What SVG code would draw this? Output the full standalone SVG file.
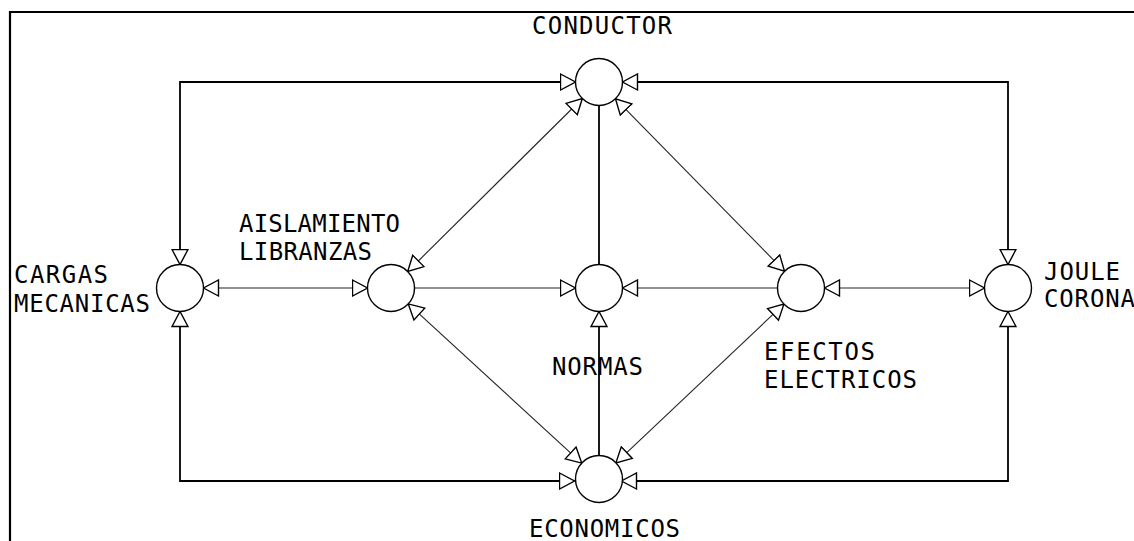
<svg xmlns="http://www.w3.org/2000/svg" width="1134" height="541" viewBox="0 0 1134 541">
  <style>
    .frame { fill: none; stroke: #000; stroke-width: 2.2; }
    .node circle { fill: #fff; stroke: #000; stroke-width: 1.4; }
    .loop { fill: none; stroke: #000; stroke-width: 1.8; }
    .link { fill: none; stroke: #222; stroke-width: 1.1; }
    .both { marker-start: url(#tri); marker-end: url(#tri); }
    .end { marker-end: url(#tri); }
    text { font-family: "DejaVu Sans Mono", "Liberation Mono", monospace; font-size: 24px; fill: #000; }
  </style>
  <defs>
    <marker id="tri" viewBox="0 0 17 18" markerUnits="userSpaceOnUse" markerWidth="17" markerHeight="18" refX="16" refY="9" orient="auto-start-reverse">
      <path d="M1,1 L16,9 L1,17 Z" fill="#fff" stroke="#000" stroke-width="1.4" stroke-linejoin="miter"/>
    </marker>
  </defs>

  <rect width="1134" height="541" fill="#fff"/>
  <!-- sheet border -->
  <path class="frame" d="M10,541 V12 H1134"/>

  <g id="connectors">
    <!-- outer loop -->
    <path class="loop both" d="M180,264.5 V82 H575.5"/>
    <path class="loop both" d="M622.5,82 H1008 V264.5"/>
    <path class="loop both" d="M180,311.5 V481 H574.5"/>
    <path class="loop both" d="M1008,311.5 V481 H621.5"/>
    <!-- middle row -->
    <path class="link both" d="M203.5,288 H367.5"/>
    <path class="link end" d="M414.5,288 H575.5"/>
    <path class="link end" d="M777.5,288 H622.5"/>
    <path class="link both" d="M824.5,288 H984.5"/>
    <!-- centre column -->
    <path class="loop" d="M599,105.5 V264.5"/>
    <path class="loop end" d="M599,455.5 V311.5"/>
    <!-- diagonals -->
    <path class="link both" d="M582.3,98.5 L407.7,271.5"/>
    <path class="link both" d="M615.5,98.8 L784.5,271.2"/>
    <path class="link both" d="M408.3,303.9 L581.7,463.1"/>
    <path class="link both" d="M783.9,304.1 L615.9,462.9"/>
  </g>

  <g id="conductor" class="node">
    <circle cx="599" cy="82" r="23.5"/>
    <text x="532" y="34" textLength="140">CONDUCTOR</text>
  </g>
  <g id="cargas-mecanicas" class="node">
    <circle cx="180" cy="288" r="23.5"/>
    <text x="14" y="283" textLength="94">CARGAS</text>
    <text x="14" y="312" textLength="136">MECANICAS</text>
  </g>
  <g id="aislamiento-libranzas" class="node">
    <circle cx="391" cy="288" r="23.5"/>
    <text x="239" y="232" textLength="161">AISLAMIENTO</text>
    <text x="239" y="260" textLength="133">LIBRANZAS</text>
  </g>
  <g id="normas" class="node">
    <circle cx="599" cy="288" r="23.5"/>
    <text x="552" y="375" textLength="91">NORMAS</text>
  </g>
  <g id="efectos-electricos" class="node">
    <circle cx="801" cy="288" r="23.5"/>
    <text x="764" y="360" textLength="111">EFECTOS</text>
    <text x="764" y="388" textLength="153">ELECTRICOS</text>
  </g>
  <g id="joule-corona" class="node">
    <circle cx="1008" cy="288" r="23.5"/>
    <text x="1044" y="280" textLength="76">JOULE</text>
    <text x="1044" y="307" textLength="91">CORONA</text>
  </g>
  <g id="economicos" class="node">
    <circle cx="599" cy="479" r="23.5"/>
    <text x="529" y="537" textLength="151">ECONOMICOS</text>
  </g>
</svg>
